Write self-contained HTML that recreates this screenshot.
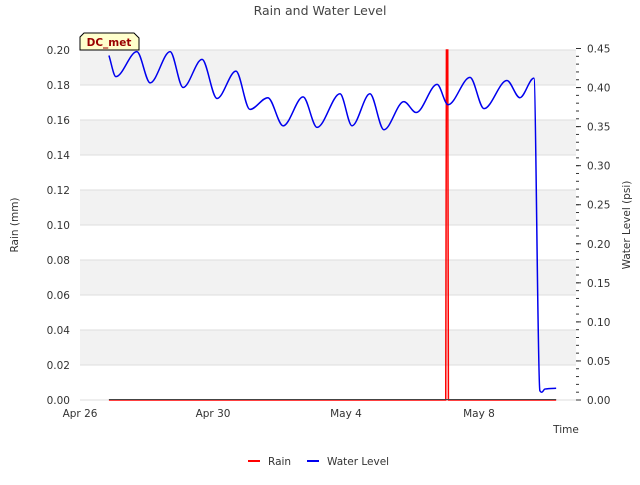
<!DOCTYPE html>
<html><head><meta charset="utf-8"><style>
body{margin:0;background:#fff;font-family:"Liberation Sans","DejaVu Sans",sans-serif;}
svg text{font-family:"DejaVu Sans","Liberation Sans",sans-serif;}
</style></head><body>
<svg id="c" width="640" height="480" xmlns="http://www.w3.org/2000/svg"></svg>
<script>
const xTickLabels=["Apr 26","Apr 30","May 4","May 8"];
const xTickDays=[0,4,8,12];
const leftTicks=[0,0.02,0.04,0.06,0.08,0.10,0.12,0.14,0.16,0.18,0.20];
const rightTicks=[0,0.05,0.10,0.15,0.20,0.25,0.30,0.35,0.40,0.45];
const levelDays=[0.87,1.08,1.71,2.11,2.71,3.10,3.67,4.12,4.69,5.11,5.65,6.11,6.71,7.13,7.82,8.18,8.72,9.14,9.74,10.11,10.74,11.07,11.73,12.15,12.84,13.23,13.65,13.83,13.89,13.98,14.32];
const levelVals=[0.441,0.414,0.446,0.406,0.446,0.400,0.436,0.386,0.421,0.372,0.387,0.351,0.388,0.349,0.392,0.351,0.392,0.346,0.382,0.368,0.404,0.378,0.413,0.373,0.409,0.387,0.412,0.012,0.010,0.014,0.015];
const rainDays=[0.87,11.0,11.02,11.04,11.06,11.08,14.32];
const rainVals=[0,0,0.2,0.2,0.2,0,0];

const svg=document.getElementById('c');
const NS='http://www.w3.org/2000/svg';
const L=80,R=576,T=50,B=400;
const xs=d=>L+d*33.25;
const yl=v=>B-v/0.2*(B-T);
const yr=v=>B-v/0.45*(B-T+1.5);
function mk(tag,attrs,parent){const e=document.createElementNS(NS,tag);for(const k in attrs)e.setAttribute(k,attrs[k]);(parent||svg).appendChild(e);return e;}
function txt(x,y,s,anchor,size,fill,extra){const t=mk('text',Object.assign({x:x,y:y,'text-anchor':anchor,'font-size':size,fill:fill},extra||{}));t.textContent=s;return t;}
function monotonePath(px,py){
 const n=px.length,d=[],m=[];
 for(let i=0;i<n-1;i++)d.push((py[i+1]-py[i])/(px[i+1]-px[i]));
 m[0]=d[0];m[n-1]=d[n-2];
 for(let i=1;i<n-1;i++){m[i]=(d[i-1]*d[i]<=0)?0:(d[i-1]+d[i])/2;}
 for(let i=0;i<n-1;i++){if(d[i]===0){m[i]=0;m[i+1]=0;continue;}const a=m[i]/d[i],b=m[i+1]/d[i],s=a*a+b*b;if(s>9){const t=3/Math.sqrt(s);m[i]=t*a*d[i];m[i+1]=t*b*d[i];}}
 let p='M'+px[0]+','+py[0];
 for(let i=0;i<n-1;i++){const h=(px[i+1]-px[i])/3;p+=' C'+(px[i]+h)+','+(py[i]+m[i]*h)+' '+(px[i+1]-h)+','+(py[i+1]-m[i+1]*h)+' '+px[i+1]+','+py[i+1];}
 return p;
}

for(let i=0;i<5;i++){
 const top=0.2-i*0.04;
 const r=mk('rect',{x:L,y:yl(top),width:R-L,height:yl(top-0.02)-yl(top),fill:'#f2f2f2'});
 
 
}
leftTicks.forEach(v=>{
 const g=mk('line',{x1:L,x2:R,y1:yl(v),y2:yl(v),stroke:'#dddddd','stroke-width':1});
 
 
 const t=txt(L-10,yl(v)+4,v.toFixed(2),'end',10.5,'#333');
 
 
});
rightTicks.forEach(v=>{
 const t=txt(R+11,yr(v)+4,v.toFixed(2),'start',10.5,'#333');
 
 
 mk('line',{x1:R,x2:R+5,y1:yr(v),y2:yr(v),stroke:'#333'});
});
for(let v=0;v<=0.45001;v+=0.01){mk('line',{x1:R,x2:R+3,y1:yr(v),y2:yr(v),stroke:'#333'});}
xTickDays.forEach((d,i)=>{
 const t=txt(xs(d),417,xTickLabels[i],'middle',10.5,'#333');
 
 
});

const rp=mk('polyline',{points:rainDays.map((d,i)=>xs(d)+','+yl(rainVals[i])).join(' '),fill:'none',stroke:'#ff0000','stroke-width':1.5});


mk('line',{x1:xs(rainDays[0]),x2:xs(rainDays[rainDays.length-1]),y1:B-0.5,y2:B-0.5,stroke:'#444','stroke-width':1});

const wp=mk('path',{d:monotonePath(levelDays.map(xs),levelVals.map(yr)),fill:'none',stroke:'#0000ee','stroke-width':1.5,'stroke-linejoin':'round'});



const title=txt(320,15,'Rain and Water Level','middle',12.5,'#444');


const yt=txt(0,0,'Rain (mm)','middle',10.5,'#333',{transform:'translate(18,225) rotate(-90)'});


const yt2=txt(0,0,'Water Level (psi)','middle',10.5,'#333',{transform:'translate(630,225) rotate(-90)'});


const xt=txt(566,433,'Time','middle',10.5,'#333');



const bg=mk('g',{});


mk('path',{d:'M84,33 L134,33 L139,38 L139,50 L80,50 L80,37 Z',fill:'#ffffcc',stroke:'#000','stroke-width':1},bg);
bg.appendChild(txt(109,46,'DC_met','middle',10.5,'#990000',{'font-weight':'bold'}));

const lg1=mk('g',{});


mk('line',{x1:248,x2:260,y1:461,y2:461,stroke:'#ff0000','stroke-width':2},lg1);
lg1.appendChild(txt(268,465,'Rain','start',10.5,'#333'));
const lg2=mk('g',{});


mk('line',{x1:307,x2:319,y1:461,y2:461,stroke:'#0000ee','stroke-width':2},lg2);
lg2.appendChild(txt(327,465,'Water Level','start',10.5,'#333'));
</script>
</body></html>
